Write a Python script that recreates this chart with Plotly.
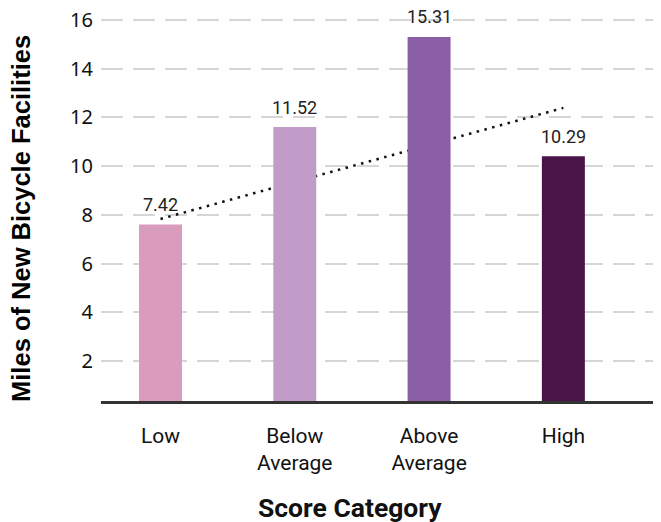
import plotly.graph_objects as go

categories = ["Low", "Below<br>Average", "Above<br>Average", "High"]
miles = [7.42, 11.52, 15.31, 10.29]
bar_colors = ["#d99cbc", "#c29cc9", "#8a5fa5", "#4b1449"]
trend_categories = ["Low", "High"]
trend_values = [7.83, 12.39]
y_ticks = [2, 4, 6, 8, 10, 12, 14, 16]
x_title = "Score Category"
y_title = "Miles of New Bicycle Facilities"

fig = go.Figure()
fig.add_trace(go.Bar(
    x=categories, y=miles,
    marker=dict(color=bar_colors, line=dict(width=0)),
    width=0.32,
    yaxis="y2",
    showlegend=False,
))
fig.add_trace(go.Scatter(
    x=trend_categories, y=trend_values,
    mode="lines",
    yaxis="y",
    line=dict(color="#111111", width=2.5, dash="2.5px,5.5px"),
    showlegend=False,
))

for c, v in zip(categories, miles):
    fig.add_annotation(
        x=c, y=v, xref="x", yref="y2",
        text=f"{v:.2f}", showarrow=False,
        yanchor="middle", yshift=20,
        font=dict(family="Roboto", size=18, color="#222222"),
    )

# axis titles (placed as in the reference, not centred on the plot area)
fig.add_annotation(
    xref="paper", yref="paper", x=0.4438, y=-0.272,
    xanchor="center", yanchor="middle",
    text=f"<b>{x_title}</b>", showarrow=False,
    font=dict(family="Roboto", size=26.5, color="#111111"),
)
fig.add_annotation(
    xref="paper", yref="paper", x=-0.142, y=0.4668,
    xanchor="center", yanchor="middle", textangle=-90,
    text=f"<b>{y_title}</b>", showarrow=False,
    font=dict(family="Liberation Sans", size=25.5, color="#000000"),
)

fig.update_layout(
    width=653, height=514,
    margin=dict(l=93, r=0, t=2, b=121),
    paper_bgcolor="white", plot_bgcolor="white",
    xaxis=dict(
        type="category",
        range=[-0.443, 3.727],
        automargin=False,
        showgrid=False,
        showline=True, linecolor="#333333", linewidth=2.5,
        ticks="",
        tickfont=dict(family="Roboto", size=21, color="#111111"),
        ticklabelstandoff=14,
    ),
    yaxis=dict(
        range=[0.357, 16.41],
        automargin=False,
        tickvals=y_ticks,
        ticklabeloverflow="allow",
        showgrid=True, gridcolor="#d6d6d6", gridwidth=2,
        griddash="22px,10px",
        zeroline=False, showline=False,
        ticks="",
        tickfont=dict(family="Noto Sans", size=20, color="#111111"),
        ticklabelstandoff=7,
    ),
    yaxis2=dict(
        overlaying="y",
        range=[0, 16.44],
        visible=False,
        showgrid=False,
        zeroline=False,
    ),
)

fig.write_html("out.html")
